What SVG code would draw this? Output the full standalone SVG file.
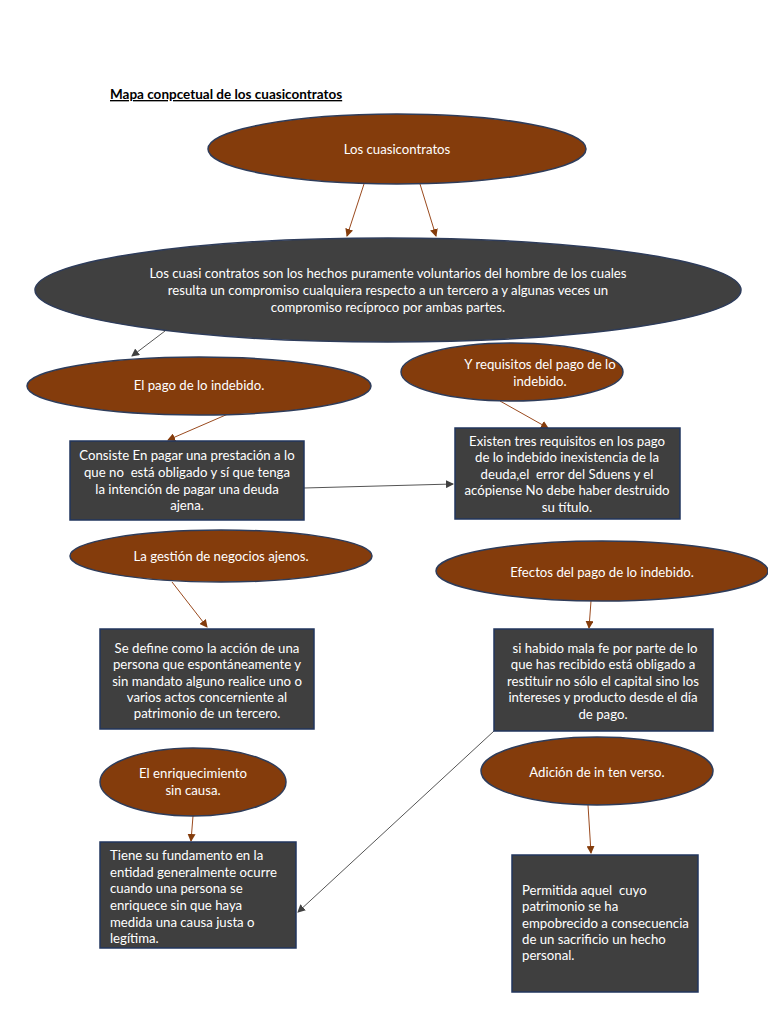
<svg xmlns="http://www.w3.org/2000/svg" width="768" height="1024" viewBox="0 0 768 1024">
<style>
.e{fill:#843C0C;stroke:#2E3C5A;stroke-width:1.5}
.d{fill:#404040;stroke:#2E3C5A;stroke-width:1.5}
.b{fill:#3F3F3F;stroke:#22365E;stroke-width:1.5}
text{font-family:Lato,"Open Sans","Liberation Sans",sans-serif;font-size:13.2px;fill:#FFFFFF;white-space:pre}
.c{text-anchor:middle}
.t{fill:#000;font-weight:bold;font-size:13.5px;text-decoration:underline}
.br{stroke:#9A4A1E;stroke-width:1;fill:none}
.gr{stroke:#555;stroke-width:1;fill:none}
</style>
<defs>
<marker id="mb" markerWidth="8" markerHeight="8" refX="7" refY="4" orient="auto" markerUnits="userSpaceOnUse"><path d="M0,0 L8,4 L0,8 Z" fill="#843C0C"/></marker>
<marker id="mg" markerWidth="8" markerHeight="8" refX="7" refY="4" orient="auto" markerUnits="userSpaceOnUse"><path d="M0,0 L8,4 L0,8 Z" fill="#404040"/></marker>
</defs>
<rect width="768" height="1024" fill="#FFFFFF"/>
<text class="t" x="110" y="99">Mapa conpcetual de los cuasicontratos</text>

<g id="connectors">
<line class="br" x1="364" y1="184" x2="347" y2="236" marker-end="url(#mb)"/>
<line class="br" x1="420" y1="184" x2="436" y2="236" marker-end="url(#mb)"/>
<line class="gr" x1="165" y1="331" x2="132" y2="356" marker-end="url(#mg)"/>
<line class="br" x1="228" y1="414" x2="168" y2="440" marker-end="url(#mb)"/>
<line class="br" x1="500" y1="401" x2="548" y2="428" marker-end="url(#mb)"/>
<line class="gr" x1="304" y1="488" x2="453" y2="484" marker-end="url(#mg)"/>
<line class="br" x1="172" y1="582" x2="207" y2="627" marker-end="url(#mb)"/>
<line class="br" x1="591" y1="601" x2="589" y2="628" marker-end="url(#mb)"/>
<line class="gr" x1="494" y1="731" x2="298" y2="912" marker-end="url(#mg)"/>
<line class="br" x1="193" y1="816" x2="191" y2="841" marker-end="url(#mb)"/>
<line class="br" x1="588" y1="805" x2="591" y2="853" marker-end="url(#mb)"/>
</g>

<g id="n1">
<ellipse class="e" cx="397" cy="149" rx="189" ry="35"/>
<text class="c" x="397" y="154">Los cuasicontratos</text>
</g>
<g id="n2">
<ellipse class="d" cx="388" cy="290" rx="353" ry="52"/>
<text class="c" x="388" y="278">Los cuasi contratos son los hechos puramente voluntarios del hombre de los cuales</text>
<text class="c" x="388" y="295">resulta un compromiso cualquiera respecto a un tercero a y algunas veces un</text>
<text class="c" x="388" y="312">compromiso recíproco por ambas partes.</text>
</g>
<g id="n3">
<ellipse class="e" cx="199" cy="386" rx="172" ry="29"/>
<text class="c" x="199" y="390">El pago de lo indebido.</text>
</g>
<g id="n4">
<ellipse class="e" cx="512" cy="372" rx="111" ry="29"/>
<text class="c" x="540" y="369">Y requisitos del pago de lo</text>
<text class="c" x="540" y="386">indebido.</text>
</g>
<g id="n5">
<rect class="b" x="70" y="441" width="234" height="79"/>
<text class="c" x="187" y="460">Consiste En pagar una prestación a lo</text>
<text class="c" x="187" y="477">que no  está obligado y sí que tenga</text>
<text class="c" x="187" y="494">la intención de pagar una deuda</text>
<text class="c" x="187" y="510">ajena.</text>
</g>
<g id="n6">
<rect class="b" x="455" y="428" width="225" height="91"/>
<text class="c" x="567" y="446">Existen tres requisitos en los pago</text>
<text class="c" x="567" y="462">de lo indebido inexistencia de la</text>
<text class="c" x="567" y="479">deuda,el  error del Sduens y el</text>
<text class="c" x="567" y="495">acópiense No debe haber destruido</text>
<text class="c" x="567" y="512">su título.</text>
</g>
<g id="n7">
<ellipse class="e" cx="221" cy="556" rx="151" ry="26"/>
<text class="c" x="221" y="561">La gestión de negocios ajenos.</text>
</g>
<g id="n8">
<ellipse class="e" cx="602" cy="571" rx="166" ry="30"/>
<text class="c" x="602" y="577">Efectos del pago de lo indebido.</text>
</g>
<g id="n9">
<rect class="b" x="100" y="629" width="214" height="100"/>
<text class="c" x="207" y="653">Se define como la acción de una</text>
<text class="c" x="207" y="669">persona que espontáneamente y</text>
<text class="c" x="207" y="686">sin mandato alguno realice uno o</text>
<text class="c" x="207" y="702">varios actos concerniente al</text>
<text class="c" x="207" y="718">patrimonio de un tercero.</text>
</g>
<g id="n10">
<rect class="b" x="494" y="629" width="219" height="102"/>
<text class="c" x="605" y="653">si habido mala fe por parte de lo</text>
<text class="c" x="603" y="669">que has recibido está obligado a</text>
<text class="c" x="603" y="686">restituir no sólo el capital sino los</text>
<text class="c" x="603" y="702">intereses y producto desde el día</text>
<text class="c" x="603" y="719">de pago.</text>
</g>
<g id="n11">
<ellipse class="e" cx="193" cy="782" rx="93" ry="34"/>
<text class="c" x="193" y="778">El enriquecimiento</text>
<text class="c" x="193" y="795">sin causa.</text>
</g>
<g id="n12">
<ellipse class="e" cx="597" cy="771" rx="116" ry="34"/>
<text class="c" x="597" y="777">Adición de in ten verso.</text>
</g>
<g id="n13">
<rect class="b" x="100" y="842" width="196" height="106"/>
<text x="110" y="860">Tiene su fundamento en la</text>
<text x="110" y="877">entidad generalmente ocurre</text>
<text x="110" y="893">cuando una persona se</text>
<text x="110" y="910">enriquece sin que haya</text>
<text x="110" y="927">medida una causa justa o</text>
<text x="110" y="943">legítima.</text>
</g>
<g id="n14">
<rect class="b" x="512" y="855" width="186" height="137"/>
<text x="522" y="895">Permitida aquel  cuyo</text>
<text x="522" y="911">patrimonio se ha</text>
<text x="522" y="928">empobrecido a consecuencia</text>
<text x="522" y="944">de un sacrificio un hecho</text>
<text x="522" y="960">personal.</text>
</g>
</svg>
